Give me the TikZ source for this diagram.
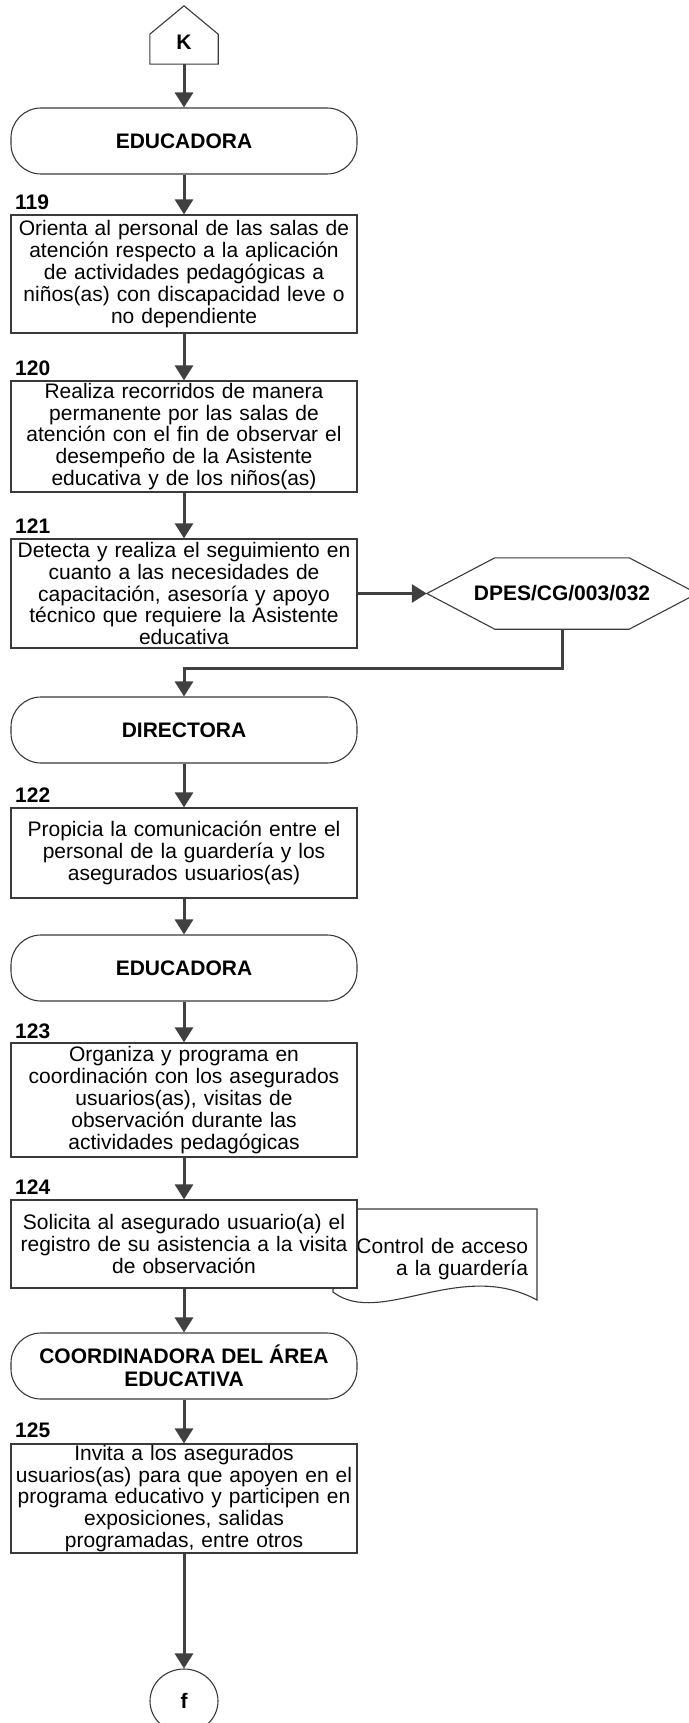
\documentclass[tikz,border=0pt]{standalone}
\usepackage{fontspec}
\setmainfont{Liberation Sans}
\usetikzlibrary{arrows.meta,calc,shapes.geometric}
\definecolor{ln}{HTML}{404040}
\definecolor{bd}{HTML}{3A3A3A}
\begin{document}
\begin{tikzpicture}[x=1pt,y=-1pt,
 every node/.style={font=\fontsize{21}{21.9}\selectfont},
 procbox/.style={draw=bd,line width=1.2pt,fill=white,minimum width=346pt,text width=340pt,align=center,inner sep=0pt},
 termbox/.style={draw=bd,line width=1.1pt,fill=white,rounded corners=30pt,minimum width=346pt,minimum height=66pt,inner sep=0pt,align=center,font=\fontsize{21}{22.5}\selectfont\bfseries},
 numlbl/.style={anchor=south west,inner sep=0pt,font=\fontsize{21}{22}\selectfont\bfseries},
 flow/.style={draw=ln,line width=3pt,-{Triangle[length=15pt,width=18pt]}},
 shapeline/.style={draw=bd,line width=1.1pt,fill=white},
 ]
\useasboundingbox (0,0) rectangle (688,1723);

% K connector (pentagon)
\node[minimum width=68pt,minimum height=44pt,inner sep=0pt,font=\fontsize{21}{22}\selectfont\bfseries] (k) at (184,42) {};
\path[shapeline] (k.south west) -- ($(k.south west)+(0,-30)$) -- ($(k.north)+(0,-14)$) -- ($(k.south east)+(0,-30)$) -- (k.south east) -- cycle;
\node[font=\fontsize{21}{22}\selectfont\bfseries] at (k) {K};

\node[termbox] (edu1) at (184,141) {EDUCADORA};

\node[procbox,minimum height=118pt] (b119) at (184,274) {Orienta al personal de las salas de\\atención respecto a la aplicación\\de actividades pedagógicas a\\niños(as) con discapacidad leve o\\no dependiente};
\node[numlbl] at (15,210) {119};

\node[procbox,minimum height=111pt] (b120) at (184,436.5) {Realiza recorridos de manera\\permanente por las salas de\\atención con el fin de observar el\\desempeño de la Asistente\\educativa y de los niños(as)};
\node[numlbl] at (15,376) {120};

\node[procbox,minimum height=109pt] (b121) at (184,593.5) {Detecta y realiza el seguimiento en\\cuanto a las necesidades de\\capacitación, asesoría y apoyo\\técnico que requiere la Asistente\\educativa};
\node[numlbl] at (15,534) {121};

% hexagon
\node[minimum width=270pt,minimum height=71pt,inner sep=0pt] (hex) at (562,593.5) {};
\path[shapeline] (hex.west) -- ($(hex.north west)+(68,0)$) -- ($(hex.north east)+(-68,0)$) -- (hex.east) -- ($(hex.south east)+(-68,0)$) -- ($(hex.south west)+(68,0)$) -- cycle;
\node[font=\fontsize{21}{22}\selectfont\bfseries] at (hex) {DPES/CG/003/032};

\node[termbox] (dir) at (184,730) {DIRECTORA};

\node[procbox,minimum height=90pt] (b122) at (184,853) {Propicia la comunicación entre el\\personal de la guardería y los\\asegurados usuarios(as)};
\node[numlbl] at (15,803) {122};

\node[termbox] (edu2) at (184,968) {EDUCADORA};

\node[procbox,minimum height=114pt] (b123) at (184,1100) {Organiza y programa en\\coordinación con los asegurados\\usuarios(as), visitas de\\observación durante las\\actividades pedagógicas};
\node[numlbl] at (15,1039) {123};

% document
\path[shapeline] (333,1209) -- (537,1209) -- (537,1300) .. controls (460,1258) and (380,1328) .. (333,1292) -- cycle;
\node[text width=190pt,align=right,inner sep=0pt] (doc) at (433,1259) {Control de acceso\\a la guardería};

\node[procbox,minimum height=88pt] (b124) at (184,1244) {Solicita al asegurado usuario(a) el\\registro de su asistencia a la visita\\de observación};
\node[numlbl] at (15,1195) {124};

\node[termbox] (coord) at (184,1366) {COORDINADORA DEL ÁREA\\EDUCATIVA};

\node[procbox,minimum height=109pt] (b125) at (184,1498.5) {Invita a los asegurados\\usuarios(as) para que apoyen en el\\programa educativo y participen en\\exposiciones, salidas\\programadas, entre otros};
\node[numlbl] at (15,1438) {125};

\node[ellipse,draw=bd,line width=1.1pt,fill=white,minimum width=68pt,minimum height=64pt,inner sep=0pt,font=\fontsize{21}{22}\selectfont\bfseries] (f) at (184,1701) {f};

% connectors
\coordinate (j) at (562,668);
\draw[flow] (k.south) -- (edu1.north);
\draw[flow] (edu1.south) -- (b119.north);
\draw[flow] (b119.south) -- (b120.north);
\draw[flow] (b120.south) -- (b121.north);
\draw[flow] (b121.east) -- (hex.west);
\draw[flow] (hex.south) -- (j) -| (dir.north);
\draw[flow] (dir.south) -- (b122.north);
\draw[flow] (b122.south) -- (edu2.north);
\draw[flow] (edu2.south) -- (b123.north);
\draw[flow] (b123.south) -- (b124.north);
\draw[flow] (b124.south) -- (coord.north);
\draw[flow] (coord.south) -- (b125.north);
\draw[flow] (b125.south) -- (f.north);
\end{tikzpicture}
\end{document}
